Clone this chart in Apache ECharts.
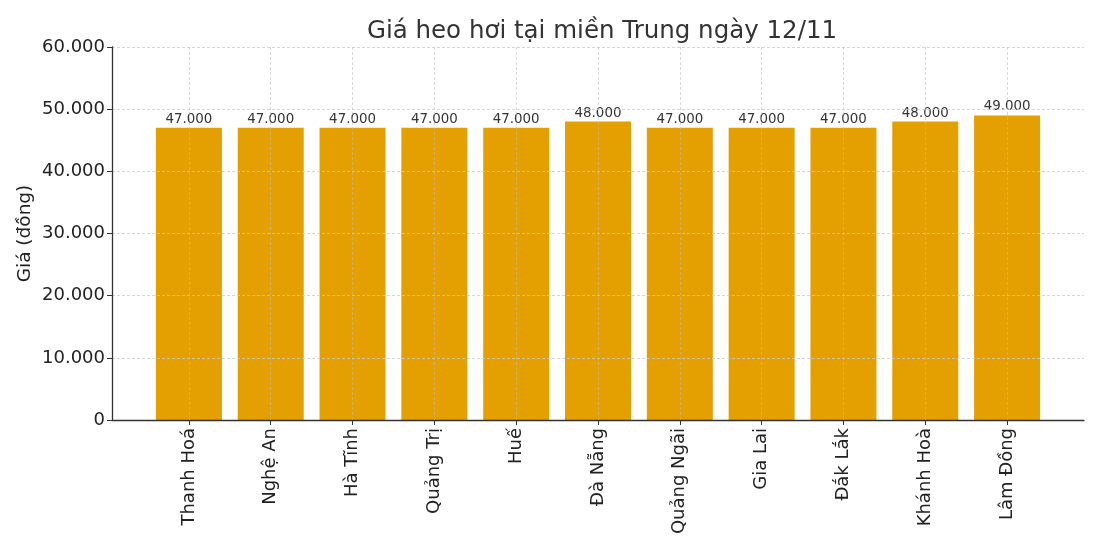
<!DOCTYPE html>
<html>
<head>
<meta charset="utf-8">
<script src="https://cdn.jsdelivr.net/npm/echarts@6/dist/echarts.min.js"></script>
<style>
html,body{margin:0;padding:0;background:#fff;}
#c{width:1100px;height:550px;}
</style>
</head>
<body>
<div id="c"></div>
<script>
const categories = ["Thanh Hoá","Nghệ An","Hà Tĩnh","Quảng Trị","Huế","Đà Nẵng","Quảng Ngãi","Gia Lai","Đắk Lắk","Khánh Hoà","Lâm Đồng"];
const prices = [47000,47000,47000,47000,47000,48000,47000,47000,47000,48000,49000];
const yTicks = [0,10000,20000,30000,40000,50000,60000];
const titleText = "Giá heo hơi tại miền Trung ngày 12/11";
const yAxisName = "Giá (đồng)";

function fmt(v){
  return String(Math.round(v)).replace(/\B(?=(\d{3})+(?!\d))/g, '.');
}
const idx = categories.map((c,i)=>i);
const chart = echarts.init(document.getElementById('c'));
const FONT = 'DejaVu Sans';
chart.setOption({
  animation:false,
  backgroundColor:'#fff',
  textStyle:{fontFamily:FONT},
  title:{text:titleText,left:597,textAlign:'center',top:14,
    textStyle:{fontFamily:FONT,fontSize:24.5,fontWeight:'normal',color:'#333'}},
  grid:{left:112,right:16,top:47,bottom:130,containLabel:false,outerBoundsMode:'none'},
  xAxis:{
    type:'value',min:-0.94,max:categories.length-0.06,
    axisLine:{show:true,onZero:false,lineStyle:{color:'#333',width:1.3}},
    axisTick:{show:true,customValues:idx,length:5,lineStyle:{color:'#333'}},
    axisLabel:{customValues:idx,rotate:90,fontSize:18,color:'#222',fontFamily:FONT,margin:8,
      formatter:v=>categories[Math.round(v)]||''},
    splitLine:{show:true,lineStyle:{color:'#bbb',type:[3,2],width:0.8,opacity:0.7}},
    z:3
  },
  yAxis:{
    type:'value',min:yTicks[0],max:yTicks[yTicks.length-1],interval:yTicks[1]-yTicks[0],
    name:yAxisName,nameLocation:'middle',nameGap:77,nameMoveOverlap:false,
    nameTextStyle:{fontFamily:FONT,fontSize:18.5,color:'#222'},
    axisLine:{show:true,onZero:false,lineStyle:{color:'#333',width:1.3}},
    axisTick:{show:true,length:5,lineStyle:{color:'#333'}},
    axisLabel:{fontSize:18,color:'#222',fontFamily:FONT,margin:7,formatter:fmt},
    splitLine:{show:true,lineStyle:{color:'#ccc',type:[3,2],width:0.8}},
    z:3
  },
  series:[{
    type:'bar',
    data:prices.map((v,i)=>[i,v]),
    barWidth:66,
    itemStyle:{color:'#e3a000'},
    label:{show:true,position:'top',distance:2,fontSize:13.4,color:'#333',fontFamily:FONT,
      formatter:p=>fmt(p.value[1])}
  }]
});
</script>
</body>
</html>
